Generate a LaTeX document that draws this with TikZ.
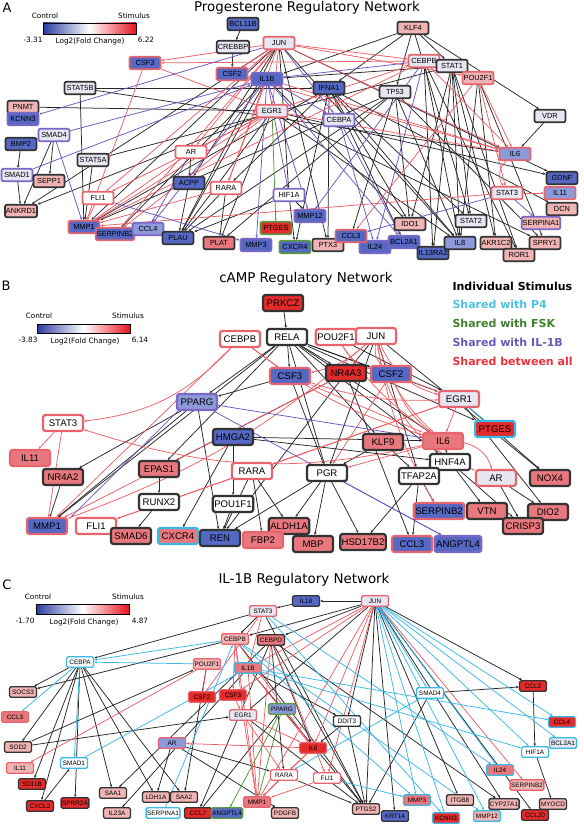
\documentclass[tikz,border=0pt]{standalone}
\usepackage{fontspec}
\setmainfont{Liberation Sans}
\newfontfamily\dvs{DejaVu Sans}
\usetikzlibrary{arrows.meta}
\definecolor{bdark}{HTML}{333333}
\definecolor{bred}{HTML}{E8646C}
\definecolor{bpurp}{HTML}{7A68C4}
\definecolor{bcyan}{HTML}{3CB8E6}
\definecolor{bgreen}{HTML}{5A9A42}
\definecolor{fblue}{HTML}{5468C4}
\definecolor{fltb}{HTML}{8C9ADA}
\definecolor{flight}{HTML}{E6E6F2}
\definecolor{fpink}{HTML}{F0B4B4}
\definecolor{fsalmon}{HTML}{E8787E}
\definecolor{fred}{HTML}{E42A2A}
\definecolor{ered}{HTML}{EE6068}
\definecolor{epurp}{HTML}{6A58C0}
\definecolor{ecyan}{HTML}{3AB8E8}
\definecolor{egreen}{HTML}{4E9A3A}
\definecolor{cbblue}{HTML}{2A3C9E}
\definecolor{cbred}{HTML}{E8141E}
\definecolor{lgcyan}{HTML}{4EC0E0}
\definecolor{lggreen}{HTML}{3E7F2E}
\definecolor{lgpurp}{HTML}{6A58B8}
\definecolor{lgred}{HTML}{E8323A}
\pgfdeclarelayer{edges}
\pgfsetlayers{edges,main}
\tikzset{
 gA/.style={rounded corners=2pt, line width=1.7pt, font=\fontsize{7.4}{8}\selectfont, minimum height=12.5pt, minimum width=31pt, inner sep=1pt},
 gB/.style={rounded corners=2.5pt, line width=2.2pt, font=\fontsize{9.6}{10}\selectfont, minimum height=16pt, minimum width=40pt, inner sep=1.5pt},
 gC/.style={rounded corners=1.5pt, line width=1.4pt, font=\fontsize{6.4}{7}\selectfont, minimum height=10.5pt, minimum width=27pt, inner sep=1pt},
 dk/.style={draw=bdark}, rd/.style={draw=bred}, pu/.style={draw=bpurp}, cy/.style={draw=bcyan}, gr/.style={draw=bgreen},
 fb/.style={fill=fblue}, fq/.style={fill=fltb}, fl/.style={fill=flight}, fw/.style={fill=white}, fp/.style={fill=fpink}, fs/.style={fill=fsalmon}, fr/.style={fill=fred},
 arr/.style={-{Stealth[length=2.8pt,width=2.4pt]}},
 eK/.style={draw=black!85, line width=0.75pt},
 eR/.style={draw=ered, line width=0.75pt},
 eP/.style={draw=epurp, line width=0.75pt},
 eC/.style={draw=ecyan, line width=0.75pt},
 eG/.style={draw=egreen, line width=0.75pt},
 ttl/.style={font=\dvs\fontsize{13.4}{15}\selectfont},
 lgd/.style={font=\dvs\fontsize{7.3}{8}\selectfont},
 plab/.style={font=\dvs\fontsize{13}{14}\selectfont},
 cat/.style={font=\dvs\bfseries\fontsize{11}{12}\selectfont, anchor=west},
}
\begin{document}
\begin{tikzpicture}[x=1pt,y=-1pt]
\useasboundingbox (0,0) rectangle (583,826);
% ---------------- Panel A ----------------
\node[plab] at (7,8) {A};
\node[ttl] at (307,8) {Progesterone Regulatory Network};
\node[lgd] at (45,16) {Control};
\node[lgd] at (134,16) {Stimulus};
\shade[left color=cbblue, right color=cbred, middle color=white] (43,23) rectangle (136,34);
\draw[line width=0.4pt] (43,23) rectangle (136,34);
\node[lgd] at (33,40) {-3.31};
\node[lgd] at (90,41) {Log2(Fold Change)};
\node[lgd] at (146,40) {6.22};

\node[gA,dk,fb] (aBCL) at (243,24) {BCL11B};
\node[gA,dk,fl] (aCREBBP) at (233,47) {CREBBP};
\node[gA,rd,fl] (aJUN) at (279,43) {JUN};
\node[gA,rd,fb] (aCSF3) at (145,63) {CSF3};
\node[gA,rd,fb] (aCSF2) at (232,74) {CSF2};
\node[gA,pu,fb] (aIL1B) at (267,79) {IL1B};
\node[gA,dk,fl] (aSTAT5B) at (80,88) {STAT5B};
\node[gA,dk,fp] (aPNMT) at (23,107) {PNMT};
\node[gA,pu,fb] (aKCNN3) at (23,119) {KCNN3};
\node[gA,rd,fl] (aEGR1) at (272,111) {EGR1};
\node[gA,pu,fl] (aSMAD4) at (54,135) {SMAD4};
\node[gA,dk,fp] (aKLF4) at (413,28) {KLF4};
\node[gA,rd,fl] (aCEBPB) at (424,61) {CEBPB};
\node[gA,dk,fl] (aSTAT1) at (452,66) {STAT1};
\node[gA,rd,fp] (aPOU2F1) at (478,78) {POU2F1};
\node[gA,dk,fb] (aIFNA1) at (329,88) {IFNA1};
\node[gA,dk,fl] (aTP53) at (395,92) {TP53};
\node[gA,pu,fl] (aCEBPA) at (339,120) {CEBPA};
\node[gA,dk,fl] (aVDR) at (550,116) {VDR};
\node[gA,dk,fb] (aBMP2) at (21,144) {BMP2};
\node[gA,rd,fw] (aAR) at (191,152) {AR};
\node[gA,dk,fl] (aSTAT5A) at (93,160) {STAT5A};
\node[gA,pu,fl] (aSMAD1) at (17,175) {SMAD1};
\node[gA,dk,fp] (aSEPP1) at (49,181) {SEPP1};
\node[gA,dk,fb] (aACPP) at (189,183) {ACPP};
\node[gA,rd,fw] (aRARA) at (226,188) {RARA};
\node[gA,pu,fw] (aHIF1A) at (289,195) {HIF1A};
\node[gA,rd,fw] (aFLI1) at (98,198) {FLI1};
\node[gA,dk,fp] (aANKRD1) at (21,211) {ANKRD1};
\node[gA,rd,fb] (aMMP1) at (84,227) {MMP1};
\node[gA,rd,fb] (aSERPINB2) at (115,234) {SERPINB2};
\node[gA,pu,fq] (aCCL4) at (148,229) {CCL4};
\node[gA,dk,fb] (aPLAU) at (178,238) {PLAU};
\node[gA,dk,fs] (aPLAT) at (219,243) {PLAT};
\node[gA,pu,fb] (aMMP3) at (256,245) {MMP3};
\node[gA,gr,fr] (aPTGES) at (276,228) {PTGES};
\node[gA,gr,fb] (aCXCR4) at (295,247) {CXCR4};
\node[gA,rd,fq] (aIL6) at (515,154) {IL6};
\node[gA,dk,fb] (aGDNF) at (562,178) {GDNF};
\node[gA,rd,fl] (aSTAT3) at (507,193) {STAT3};
\node[gA,rd,fq] (aIL11) at (560,193) {IL11};
\node[gA,dk,fp] (aDCN) at (562,209) {DCN};
\node[gA,pu,fb] (aMMP12) at (310,216) {MMP12};
\node[gA,pu,fp] (aSERPINA1) at (541,223) {SERPINA1};
\node[gA,dk,fp] (aIDO1) at (410,224) {IDO1};
\node[gA,dk,fl] (aSTAT2) at (471,221) {STAT2};
\node[gA,dk,fp] (aPTX3) at (328,245) {PTX3};
\node[gA,pu,fb] (aIL24) at (375,247) {IL24};
\node[gA,rd,fb] (aCCL3) at (351,236) {CCL3};
\node[gA,pu,fb] (aBCL2A1) at (404,242) {BCL2A1};
\node[gA,dk,fb] (aIL13RA2) at (433,253) {IL13RA2};
\node[gA,dk,fq] (aIL8) at (460,243) {IL8};
\node[gA,dk,fp] (aAKR1C2) at (496,243) {AKR1C2};
\node[gA,dk,fp] (aROR1) at (519,255) {ROR1};
\node[gA,dk,fp] (aSPRY1) at (545,243) {SPRY1};

% ---------------- Panel B ----------------
\node[plab] at (6,286) {B};
\node[ttl] at (306,279) {cAMP Regulatory Network};
\node[lgd] at (39,316) {Control};
\node[lgd] at (128,316) {Stimulus};
\shade[left color=cbblue, right color=cbred, middle color=white] (37,324) rectangle (130,333);
\draw[line width=0.4pt] (37,324) rectangle (130,333);
\node[lgd] at (28,340) {-3.83};
\node[lgd] at (85,341) {Log2(Fold Change)};
\node[lgd] at (140,340) {6.14};
\node[cat] at (449,286) {Individual Stimulus};
\node[cat, text=lgcyan] at (449,304) {Shared with P4};
\node[cat, text=lggreen] at (449,323) {Shared with FSK};
\node[cat, text=lgpurp] at (449,342) {Shared with IL-1B};
\node[cat, text=lgred] at (449,361) {Shared between all};

\node[gB,dk,fr] (bPRKCZ) at (283,303) {PRKCZ};
\node[gB,dk,fw] (bRELA) at (287,337) {RELA};
\node[gB,rd,fw] (bCEBPB) at (240,339) {CEBPB};
\node[gB,rd,fw] (bPOU2F1) at (336,337) {POU2F1};
\node[gB,rd,fw] (bJUN) at (376,336) {JUN};
\node[gB,rd,fb] (bCSF3) at (290,376) {CSF3};
\node[gB,dk,fr] (bNR4A3) at (346,373) {NR4A3};
\node[gB,rd,fb] (bCSF2) at (391,374) {CSF2};
\node[gB,rd,fl] (bEGR1) at (459,399) {EGR1};
\node[gB,pu,fq] (bPPARG) at (197,402) {PPARG};
\node[gB,rd,fw] (bSTAT3) at (63,423) {STAT3};
\node[gB,rd,fs] (bIL11) at (30,458) {IL11};
\node[gB,dk,fs] (bNR4A2) at (63,477) {NR4A2};
\node[gB,dk,fs] (bEPAS1) at (159,469) {EPAS1};
\node[gB,dk,fb] (bHMGA2) at (233,437) {HMGA2};
\node[gB,rd,fw] (bRARA) at (252,471) {RARA};
\node[gB,dk,fw] (bRUNX2) at (159,502) {RUNX2};
\node[gB,dk,fw] (bPOU1F1) at (233,504) {POU1F1};
\node[gB,rd,fb] (bMMP1) at (47,526) {MMP1};
\node[gB,rd,fw] (bFLI1) at (96,526) {FLI1};
\node[gB,dk,fs] (bSMAD6) at (131,536) {SMAD6};
\node[gB,cy,fs] (bCXCR4) at (178,536) {CXCR4};
\node[gB,dk,fb] (bREN) at (220,538) {REN};
\node[gB,dk,fs] (bALDH1A) at (289,526) {ALDH1A};
\node[gB,rd,fs] (bFBP2) at (263,540) {FBP2};
\node[gB,dk,fs] (bKLF9) at (383,442) {KLF9};
\node[gB,rd,fs] (bIL6) at (443,441) {IL6};
\node[gB,cy,fr] (bPTGES) at (495,429) {PTGES};
\node[gB,dk,fw] (bHNF4A) at (450,462) {HNF4A};
\node[gB,dk,fw] (bPGR) at (327,473) {PGR};
\node[gB,dk,fw] (bTFAP2A) at (419,476) {TFAP2A};
\node[gB,rd,fl] (bAR) at (496,478) {AR};
\node[gB,dk,fs] (bNOX4) at (550,478) {NOX4};
\node[gB,rd,fb] (bSERPINB2) at (439,511) {SERPINB2};
\node[gB,dk,fs] (bVTN) at (487,511) {VTN};
\node[gB,dk,fs] (bDIO2) at (548,512) {DIO2};
\node[gB,dk,fs] (bCRISP3) at (523,526) {CRISP3};
\node[gB,dk,fs] (bMBP) at (313,544) {MBP};
\node[gB,dk,fs] (bHSD17B2) at (363,542) {HSD17B2};
\node[gB,rd,fb] (bCCL3) at (412,544) {CCL3};
\node[gB,pu,fb] (bANGPTL4) at (458,544) {ANGPTL4};

% ---------------- Panel C ----------------
\node[plab] at (7,585) {C};
\node[ttl] at (304,580) {IL-1B Regulatory Network};
\node[lgd] at (38,597) {Control};
\node[lgd] at (128,597) {Stimulus};
\shade[left color=cbblue, right color=cbred, middle color=white] (36,604) rectangle (129,614);
\draw[line width=0.4pt] (36,604) rectangle (129,614);
\node[lgd] at (25,621) {-1.70};
\node[lgd] at (84,622) {Log2(Fold Change)};
\node[lgd] at (140,621) {4.87};

\node[gC,rd,fl] (cSTAT3) at (263,611) {STAT3};
\node[gC,dk,fb] (cIL18) at (306,601) {IL18};
\node[gC,rd,fl] (cJUN) at (375,601) {JUN};
\node[gC,rd,fp] (cCEBPB) at (235,639) {CEBPB};
\node[gC,dk,fs] (cCEBPD) at (271,640) {CEBPD};
\node[gC,cy,fw] (cCEBPA) at (80,662) {CEBPA};
\node[gC,rd,fp] (cPOU2F1) at (207,664) {POU2F1};
\node[gC,cy,fs] (cIL1B) at (248,668) {IL1B};
\node[gC,dk,fp] (cSOCS3) at (23,692) {SOCS3};
\node[gC,rd,fr] (cCSF2) at (202,697) {CSF2};
\node[gC,rd,fr] (cCSF3) at (233,695) {CSF3};
\node[gC,rd,fl] (cEGR1) at (243,715) {EGR1};
\node[gC,gr,fq] (cPPARG) at (282,709) {PPARG};
\node[gC,rd,fs] (cCCL3) at (15,717) {CCL3};
\node[gC,dk,fp] (cSOD2) at (18,747) {SOD2};
\node[gC,rd,fq] (cAR) at (172,743) {AR};
\node[gC,cy,fw] (cSMAD1) at (74,763) {SMAD1};
\node[gC,rd,fp] (cIL11) at (20,768) {IL11};
\node[gC,dk,fr] (cHSD11B) at (32,784) {SD11B};
\node[gC,rd,fw] (cRARA) at (284,775) {RARA};
\node[gC,dk,fp] (cSAA1) at (113,793) {SAA1};
\node[gC,dk,fp] (cLDH1A) at (156,797) {LDH1A};
\node[gC,dk,fp] (cSAA2) at (184,797) {SAA2};
\node[gC,rd,fs] (cMMP1) at (257,802) {MMP1};
\node[gC,dk,fr] (cCXCL2) at (40,806) {CXCL2};
\node[gC,dk,fr] (cSPRR2A) at (75,803) {SPRR2A};
\node[gC,dk,fp] (cIL23A) at (117,813) {IL23A};
\node[gC,cy,fw] (cSERPINA1) at (163,813) {SERPINA1};
\node[gC,dk,fr] (cCCL7) at (198,813) {CCL7};
\node[gC,gr,fb] (cANGPTL4) at (227,813) {ANGPTL4};
\node[gC,dk,fp] (cPDGFB) at (285,813) {PDGFB};
\node[gC,cy,fw] (cSMAD4) at (430,693) {SMAD4};
\node[gC,dk,fr] (cCCL2) at (533,686) {CCL2};
\node[gC,cy,fr] (cCCL4) at (562,722) {CCL4};
\node[gC,dk,fw] (cDDIT3) at (347,721) {DDIT3};
\node[gC,rd,fr] (cIL6) at (313,748) {IL6};
\node[gC,cy,fl] (cBCL2A1) at (563,743) {BCL2A1};
\node[gC,cy,fw] (cHIF1A) at (535,752) {HIF1A};
\node[gC,cy,fs] (cIL24) at (500,770) {IL24};
\node[gC,rd,fw] (cFLI1) at (327,778) {FLI1};
\node[gC,rd,fp] (cSERPINB2) at (527,785) {SERPINB2};
\node[gC,cy,fs] (cMMP3) at (417,800) {MMP3};
\node[gC,dk,fp] (cITGB8) at (460,800) {ITGB8};
\node[gC,dk,fp] (cCYP27A) at (504,804) {CYP27A1};
\node[gC,dk,fp] (cMYOCD) at (553,804) {MYOCD};
\node[gC,dk,fp] (cPTGS2) at (366,809) {PTGS2};
\node[gC,dk,fb] (cKRT14) at (395,816) {KRT14};
\node[gC,cy,fr] (cKCNN3) at (446,818) {KCNN3};
\node[gC,cy,fp] (cMMP12) at (487,816) {MMP12};
\node[gC,dk,fr] (cCCL20) at (535,815) {CCL20};

\begin{pgfonlayer}{edges}
% ---- A edges
\foreach \s/\t in {aBCL/aCREBBP, aCREBBP/aCSF2, aKLF4/aIFNA1, aKLF4/aTP53, aKLF4/aSTAT1, aKLF4/aIL1B, aKLF4/aVDR, aKLF4/aSTAT2, aVDR/aIL6, aSTAT5B/aIL6, aSTAT5B/aIFNA1, aSTAT5B/aMMP1, aPNMT/aEGR1, aSMAD4/aSEPP1, aSMAD4/aANKRD1, aBMP2/aSMAD1, aSMAD1/aANKRD1, aSTAT5A/aMMP1, aSTAT5A/aSTAT1, aEGR1/aANKRD1, aJUN/aANKRD1, aAR/aACPP, aACPP/aPLAU, aRARA/aPLAU, aRARA/aPLAT, aEGR1/aPLAU, aJUN/aPLAU, aTP53/aPLAU, aHIF1A/aPLAU, aHIF1A/aCXCR4, aHIF1A/aMMP12, aSTAT1/aIL8, aSTAT1/aSTAT2, aSTAT1/aIDO1, aSTAT1/aROR1, aSTAT1/aIL13RA2, aPOU2F1/aAKR1C2, aPOU2F1/aSPRY1, aTP53/aIL8, aTP53/aCCL3, aIFNA1/aSTAT2, aIFNA1/aIL8, aIFNA1/aIDO1, aIFNA1/aPTX3, aTP53/aSPRY1, aCEBPB/aIL8, aCEBPB/aIL13RA2, aJUN/aIL8, aEGR1/aIL8, aJUN/aGDNF, aEGR1/aGDNF, aIFNA1/aMMP1, aIFNA1/aRARA, aJUN/aPTX3, aJUN/aMMP1, aIL1B/aSTAT1, aJUN/aACPP, aIL1B/aPLAU, aEGR1/aPLAT, aTP53/aIDO1, aIFNA1/aBCL2A1, aSTAT1/aAKR1C2, aIL1B/aIDO1, aIFNA1/aCXCR4, aTP53/aMMP1, aCEBPB/aROR1, aIFNA1/aDCN, aEGR1/aSPRY1, aJUN/aHIF1A, aIL1B/aSERPINB2, aPOU2F1/aIL8, aTP53/aPLAT}
  \draw[eK,arr] (\s) -- (\t);
\foreach \s/\t in {aJUN/aCSF3, aCSF3/aEGR1, aCSF3/aMMP1, aJUN/aCSF2, aJUN/aEGR1, aJUN/aIL6, aJUN/aCEBPB, aJUN/aPOU2F1, aCEBPB/aIL6, aEGR1/aIL6, aPOU2F1/aIL6, aSTAT3/aIL11, aJUN/aAR, aEGR1/aAR, aEGR1/aFLI1, aFLI1/aMMP1, aEGR1/aMMP1, aEGR1/aSERPINB2, aJUN/aRARA, aCEBPB/aMMP1, aAR/aMMP1, aIL1B/aCSF2, aIL1B/aIL6, aSTAT3/aMMP1, aJUN/aFLI1, aPOU2F1/aCCL3, aCEBPB/aEGR1, aRARA/aMMP1, aJUN/aSERPINB2, aCSF2/aIL6, aCEBPB/aCSF3, aPOU2F1/aSTAT3, aIL1B/aRARA}
  \draw[eR,arr] (\s) -- (\t);
\draw[eR,arr] (aIL6) to[bend right=40] (aSTAT3);
\foreach \s/\t in {aJUN/aKCNN3, aSMAD4/aIL1B, aSMAD4/aMMP1, aSMAD1/aIL1B, aIL1B/aCEBPA, aIL1B/aHIF1A, aIL1B/aMMP12, aIL1B/aCCL4, aCEBPA/aIL24, aCEBPA/aBCL2A1, aFLI1/aMMP3, aSTAT3/aSERPINA1, aSTAT3/aCCL3, aJUN/aCEBPA, aCEBPB/aMMP12, aIL1B/aBCL2A1, aIL1B/aMMP3, aCEBPB/aIL24, aAR/aCCL4, aCEBPB/aIL1B}
  \draw[eP,arr] (\s) -- (\t);
\draw[eG,arr] (aEGR1) -- (aPTGES);
% ---- B edges
\foreach \s/\t in {bPRKCZ/bRELA, bRELA/bCSF3, bRELA/bNR4A3, bRELA/bCSF2, bRELA/bEGR1, bRELA/bIL6, bRELA/bPPARG, bRELA/bMMP1, bRELA/bEPAS1, bRELA/bKLF9, bRELA/bPGR, bRELA/bHNF4A, bRELA/bPTGES, bJUN/bNR4A3, bJUN/bPGR, bJUN/bTFAP2A, bJUN/bNOX4, bPPARG/bNR4A2, bNR4A3/bEPAS1, bHMGA2/bCXCR4, bPPARG/bREN, bHMGA2/bPOU1F1, bRARA/bREN, bRARA/bFBP2, bRARA/bALDH1A, bPOU1F1/bREN, bEPAS1/bRUNX2, bRUNX2/bSMAD6, bNR4A2/bMMP1, bKLF9/bPGR, bKLF9/bTFAP2A, bIL6/bHNF4A, bHNF4A/bVTN, bAR/bCRISP3, bAR/bDIO2, bEGR1/bNOX4, bEGR1/bDIO2, bTFAP2A/bSERPINB2, bTFAP2A/bCCL3, bTFAP2A/bHSD17B2, bPGR/bMBP, bPGR/bHSD17B2, bPGR/bALDH1A, bPGR/bREN, bHMGA2/bHNF4A, bNR4A3/bCCL3, bCSF3/bPGR, bPOU2F1/bEGR1, bPPARG/bMMP1, bNR4A3/bREN, bHNF4A/bCRISP3, bCSF3/bPPARG, bHMGA2/bIL6}
  \draw[eK,arr] (\s) -- (\t);
\foreach \s/\t/\b in {bCEBPB/bSTAT3/20, bCEBPB/bCSF3/0, bCEBPB/bMMP1/0, bJUN/bEGR1/-25, bJUN/bCSF2/-25, bJUN/bIL6/-15, bJUN/bAR/-30, bJUN/bSERPINB2/-10, bJUN/bCSF3/15, bCSF3/bIL6/0, bCSF2/bEGR1/0, bCSF2/bIL6/-15, bEGR1/bIL6/0, bSTAT3/bIL11/0, bSTAT3/bMMP1/0, bIL6/bSTAT3/15, bRARA/bFLI1/0, bEGR1/bFLI1/0, bIL6/bAR/30, bCEBPB/bIL6/-10, bPOU2F1/bCSF2/-20, bJUN/bMMP1/10, bEGR1/bRARA/0, bCSF2/bPGR/0, bIL6/bPGR/0, bNR4A3/bMMP1/0, bCSF3/bEGR1/-10, bPOU2F1/bIL6/-10}
  \draw[eR,arr] (\s) to[bend left=\b] (\t);
\foreach \s/\t in {bPPARG/bIL6, bPGR/bANGPTL4, bPPARG/bANGPTL4}
  \draw[eP,arr] (\s) -- (\t);
\draw[eP,arr] ([xshift=2pt]bPPARG.south west) -- ([xshift=3pt]bMMP1.north east);
\draw[eC,arr] (bEGR1) -- (bPTGES);
% ---- C edges
\foreach \s/\t in {cJUN/cIL18, cIL18/cSTAT3, cSTAT3/cCEBPA, cSTAT3/cCEBPB, cCEBPA/cSOCS3, cCEBPA/cSOD2, cCEBPA/cHSD11B, cCEBPA/cCXCL2, cCEBPA/cSAA1, cCEBPA/cSPRR2A, cCEBPA/cLDH1A, cCEBPA/cSAA2, cJUN/cCCL2, cJUN/cCYP27A, cJUN/cITGB8, cJUN/cKRT14, cJUN/cPTGS2, cJUN/cEGR1, cJUN/cCEBPB, cJUN/cCEBPD, cJUN/cDDIT3, cJUN/cCCL20, cCCL2/cHIF1A, cHIF1A/cMYOCD, cSMAD4/cCCL2, cSMAD4/cPTGS2, cDDIT3/cIL6, cAR/cLDH1A, cAR/cPDGFB, cAR/cRARA, cSOD2/cEGR1, cSOD2/cPOU2F1, cCXCL2/cSMAD1, cCCL7/cPPARG, cCEBPB/cPTGS2, cCEBPD/cPTGS2, cIL1B/cPTGS2, cEGR1/cPTGS2, cRARA/cPTGS2, cCEBPD/cCYP27A, cCEBPD/cIL6, cCEBPB/cSOCS3, cCEBPD/cSAA1, cPOU2F1/cSAA2, cIL1B/cIL23A, cDDIT3/cPTGS2, cCEBPD/cRARA, cSTAT3/cPTGS2, cCEBPD/cCCL7, cIL1B/cDDIT3}
  \draw[eK,arr] (\s) -- (\t);
\foreach \s/\t in {cJUN/cSERPINB2, cJUN/cIL6, cJUN/cFLI1, cJUN/cMMP1, cJUN/cCSF3, cJUN/cIL1B, cSTAT3/cIL1B, cSTAT3/cCSF2, cCEBPB/cIL6, cCEBPB/cMMP1, cIL1B/cIL6, cIL1B/cMMP1, cEGR1/cIL6, cEGR1/cMMP1, cEGR1/cRARA, cIL6/cAR, cRARA/cMMP1, cFLI1/cMMP1, cCSF3/cEGR1, cPOU2F1/cCSF2, cCEBPB/cCSF3, cIL6/cRARA, cCEBPB/cEGR1, cPOU2F1/cIL11, cCEBPD/cMMP1, cCEBPD/cFLI1, cIL6/cMMP1}
  \draw[eR,arr] (\s) -- (\t);
\foreach \s/\t in {cCEBPA/cCCL3, cCEBPB/cCEBPA, cPOU2F1/cCEBPA, cJUN/cMMP3, cJUN/cKCNN3, cJUN/cMMP12, cJUN/cIL24, cJUN/cHIF1A, cJUN/cCCL4, cJUN/cBCL2A1, cJUN/cSMAD4, cIL1B/cCCL4, cIL1B/cHIF1A, cSMAD4/cRARA, cSMAD1/cIL1B, cSERPINA1/cCEBPB, cFLI1/cMMP3, cCEBPB/cMMP3, cSTAT3/cIL24, cSTAT3/cKCNN3, cCEBPB/cMMP12, cCEBPA/cSMAD1}
  \draw[eC,arr] (\s) -- (\t);
\foreach \s/\t in {cPPARG/cMMP1, cPPARG/cANGPTL4}
  \draw[eG,arr] (\s) -- (\t);
\end{pgfonlayer}
\end{tikzpicture}
\end{document}
